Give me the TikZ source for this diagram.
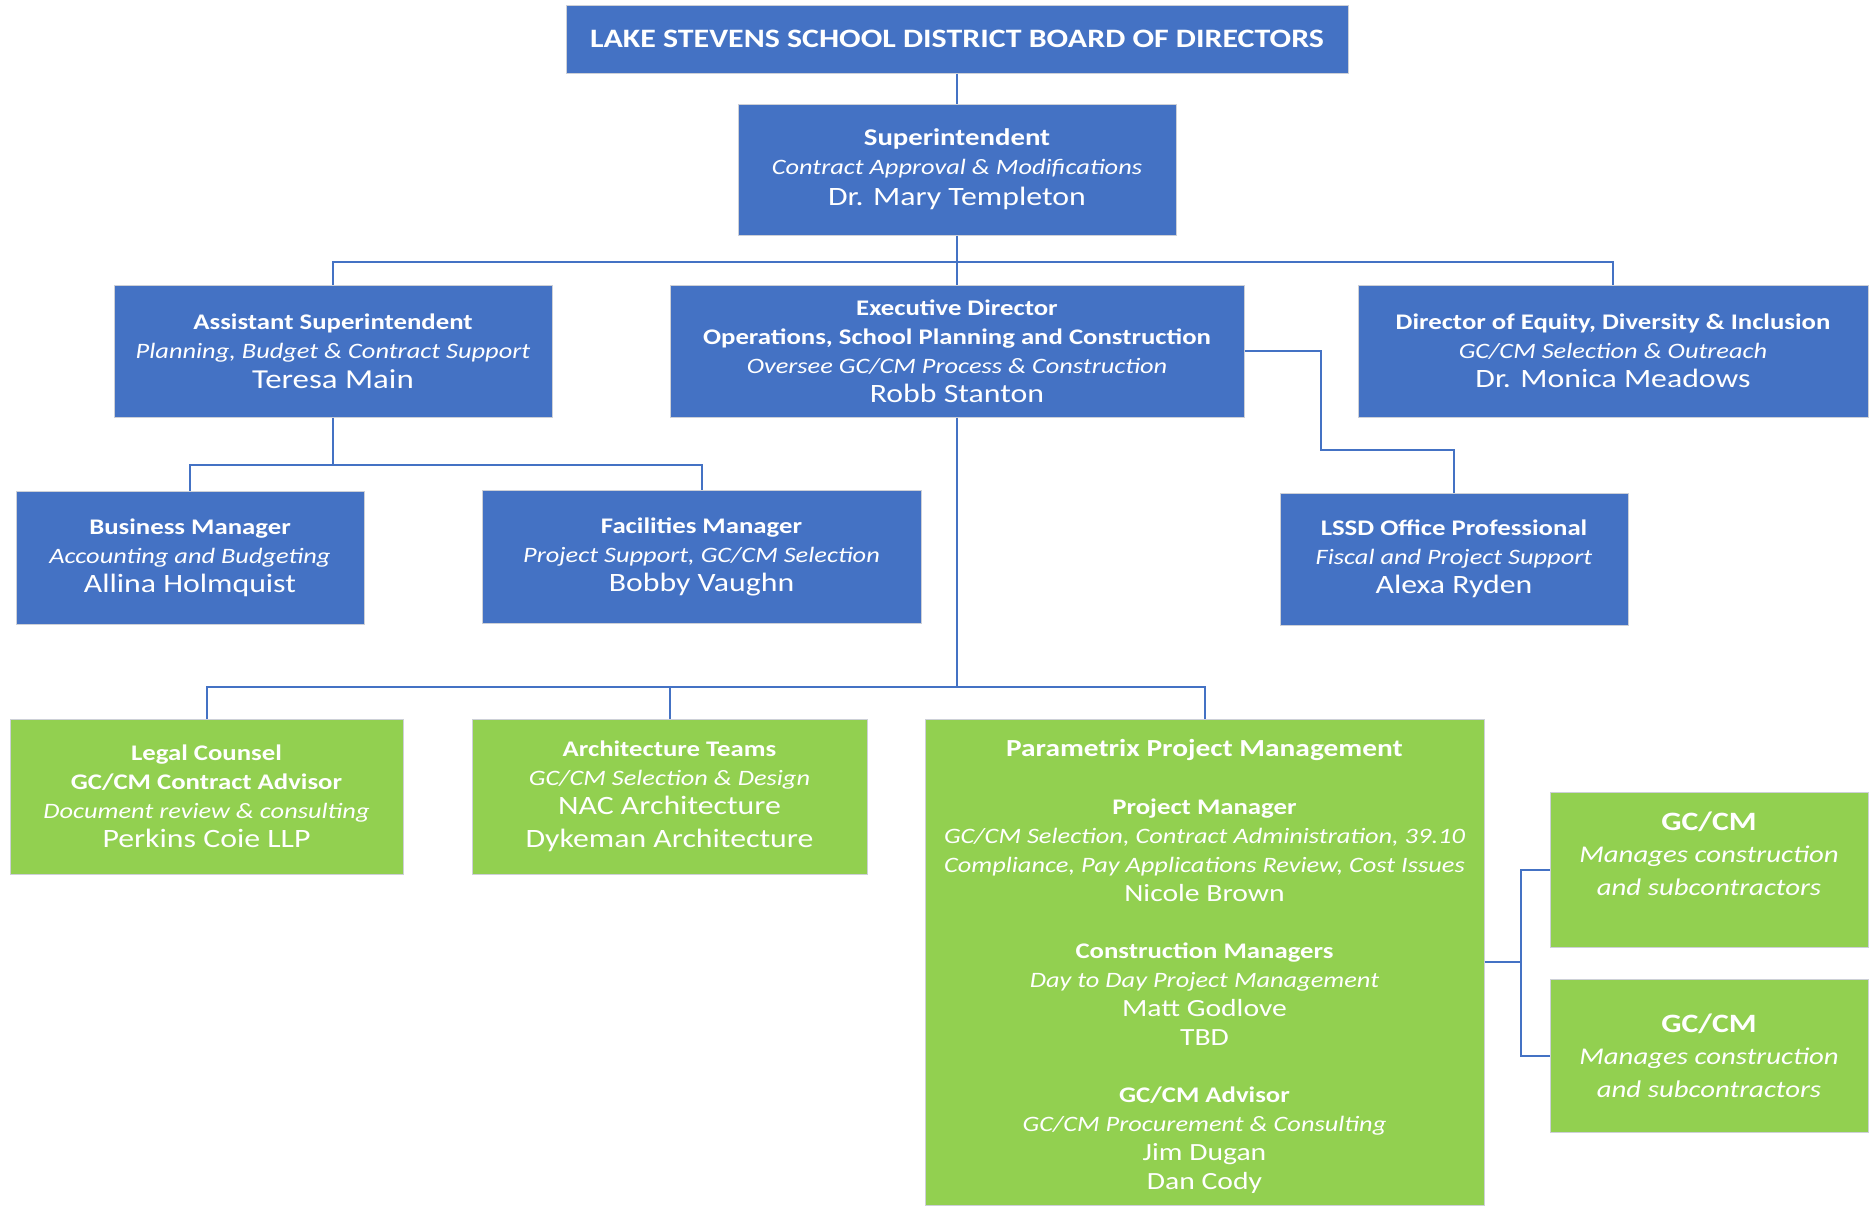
\documentclass[tikz,border=0pt]{standalone}
\usepackage{fontspec}
\setmainfont{Carlito}[FakeStretch=1.2]
\usetikzlibrary{positioning, calc}
\definecolor{offblue}  {RGB}{68,114,196}
\definecolor{offgreen} {RGB}{146,208,80}
\definecolor{edgegray} {RGB}{205,208,215}
\newcommand{\rolehd}[1]{{\fontsize{22.3}{29}\selectfont\bfseries #1}}
\newcommand{\roledesc}[1]{{\fontsize{22}{29}\selectfont\itshape #1}}
\newcommand{\rolename}[1]{{\fontsize{26.5}{29}\selectfont #1}}
\newcommand{\pmxname}[1]{{\fontsize{24.7}{29}\selectfont #1}}

\begin{document}
\begin{tikzpicture}[x=1pt, y=-1pt,
    box/.style={draw=edgegray, line width=1pt, text=white, align=center,
                inner sep=0pt, font=\fontsize{22}{29}\selectfont},
    dims/.style 2 args={minimum width=#1pt, minimum height=#2pt},
    bluebox/.style={box, fill=offblue},
    greenbox/.style={box, fill=offgreen},
    link/.style={draw=offblue, line width=2pt}]
  \useasboundingbox (0,0) rectangle (1870,1211);

  \node[bluebox, dims={782}{68}] (board) at (957,39)
    {{\fontsize{26.6}{32}\selectfont\bfseries LAKE STEVENS SCHOOL DISTRICT BOARD OF DIRECTORS}};
  \node[bluebox, dims={438}{131}] (supt) at (957,169.5)
    {{\fontsize{24}{29}\selectfont\bfseries Superintendent}\\
     \roledesc{Contract Approval \& Modifications}\\[2pt]
     \rolename{Dr. Mary Templeton}};

  \node[bluebox, dims={438}{132}] (asst) at (333,351)
    {\rolehd{Assistant Superintendent}\\ \roledesc{Planning, Budget \& Contract Support}\\[1pt]
     {\fontsize{27.4}{29}\selectfont Teresa Main}};
  \node[bluebox, dims={574}{132}] (exec) at (957,351)
    {\rolehd{Executive Director}\\ \rolehd{Operations, School Planning and Construction}\\
     \roledesc{Oversee GC/CM Process \& Construction}\\ \rolename{Robb Stanton}};
  \node[bluebox, dims={510}{132}] (equity) at (1613,351)
    {\rolehd{Director of Equity, Diversity \& Inclusion}\\ \roledesc{GC/CM Selection \& Outreach}\\
     \rolename{Dr. Monica Meadows}};

  \node[bluebox, dims={348}{133}] (bizmgr) at (190,557.5)
    {\rolehd{Business Manager}\\ \roledesc{Accounting and Budgeting}\\
     \rolename{Allina Holmquist}};
  \node[bluebox, dims={439}{133}] (facmgr) at (701.5,556.5)
    {\rolehd{Facilities Manager}\\ \roledesc{Project Support, GC/CM Selection}\\
     \rolename{Bobby Vaughn}};
  \node[bluebox, dims={348}{132}] (lssd) at (1454,559)
    {\rolehd{LSSD Office Professional}\\ \roledesc{Fiscal and Project Support}\\
     \rolename{Alexa Ryden}};

  \node[greenbox, dims={393}{155}] (legal) at (206.5,796.5)
    {\rolehd{Legal Counsel}\\ \rolehd{GC/CM Contract Advisor}\\
     \roledesc{Document review \& consulting}\\ \rolename{Perkins Coie LLP}};
  \node[greenbox, dims={395}{155}] (arch) at (669.5,796.5)
    {\rolehd{Architecture Teams}\\ \roledesc{GC/CM Selection \& Design}\\
     \rolename{NAC Architecture}\\[4pt] \rolename{Dykeman Architecture}};
  \node[greenbox, dims={559}{486}] (pmx) at (1204.5,962)
    {\rule{0pt}{26pt}{\fontsize{24.5}{29}\selectfont\bfseries Parametrix Project Management}\\[29pt]
     \rolehd{Project Manager}\\
     \roledesc{GC/CM Selection, Contract Administration, 39.10}\\
     \roledesc{Compliance, Pay Applications Review, Cost Issues}\\
     \pmxname{Nicole Brown}\\[28pt]
     \rolehd{Construction Managers}\\
     \roledesc{Day to Day Project Management}\\
     \pmxname{Matt Godlove}\\ \pmxname{TBD}\\[28pt]
     \rolehd{GC/CM Advisor}\\
     \roledesc{GC/CM Procurement \& Consulting}\\
     \pmxname{Jim Dugan}\\ \pmxname{Dan Cody}};
  \node[greenbox, dims={318}{155}, font=\fontsize{24}{32.5}\selectfont] (gccm1) at (1709,869.5)
    {{\fontsize{26.5}{32.5}\selectfont\bfseries GC/CM}\\ \textit{Manages construction}\\
     \textit{and subcontractors}\\ ~};
  \node[greenbox, dims={318}{153}, font=\fontsize{24}{32.5}\selectfont] (gccm2) at (1709,1055.5)
    {{\fontsize{26.5}{32.5}\selectfont\bfseries GC/CM}\\ \textit{Manages construction}\\
     \textit{and subcontractors}};

  \coordinate (topbus)   at (957,262);
  \coordinate (asstbus)  at (333,465);
  \coordinate (lssdbend) at (1321,450);
  \coordinate (execbus)  at (957,687);
  \coordinate (gcbus)    at (1521,962);

  \draw[link] (board) -- (supt);
  \draw[link] (supt) -- (exec);
  \draw[link] (asst.north) |- (topbus) -| (equity.north);
  \draw[link] (asst) -- (asstbus);
  \draw[link] (bizmgr.north) |- (asstbus) -| (facmgr.north);
  \draw[link] (exec.east) -| (lssdbend) -| (lssd.north);
  \draw[link] (exec) -- (execbus);
  \draw[link] (legal.north) |- (execbus) -| (pmx.north);
  \draw[link] (arch.north) |- (execbus);
  \draw[link] (pmx.east) -- (gcbus);
  \draw[link] (gccm1.west) -| (gcbus) |- (gccm2.west);
\end{tikzpicture}
\end{document}
